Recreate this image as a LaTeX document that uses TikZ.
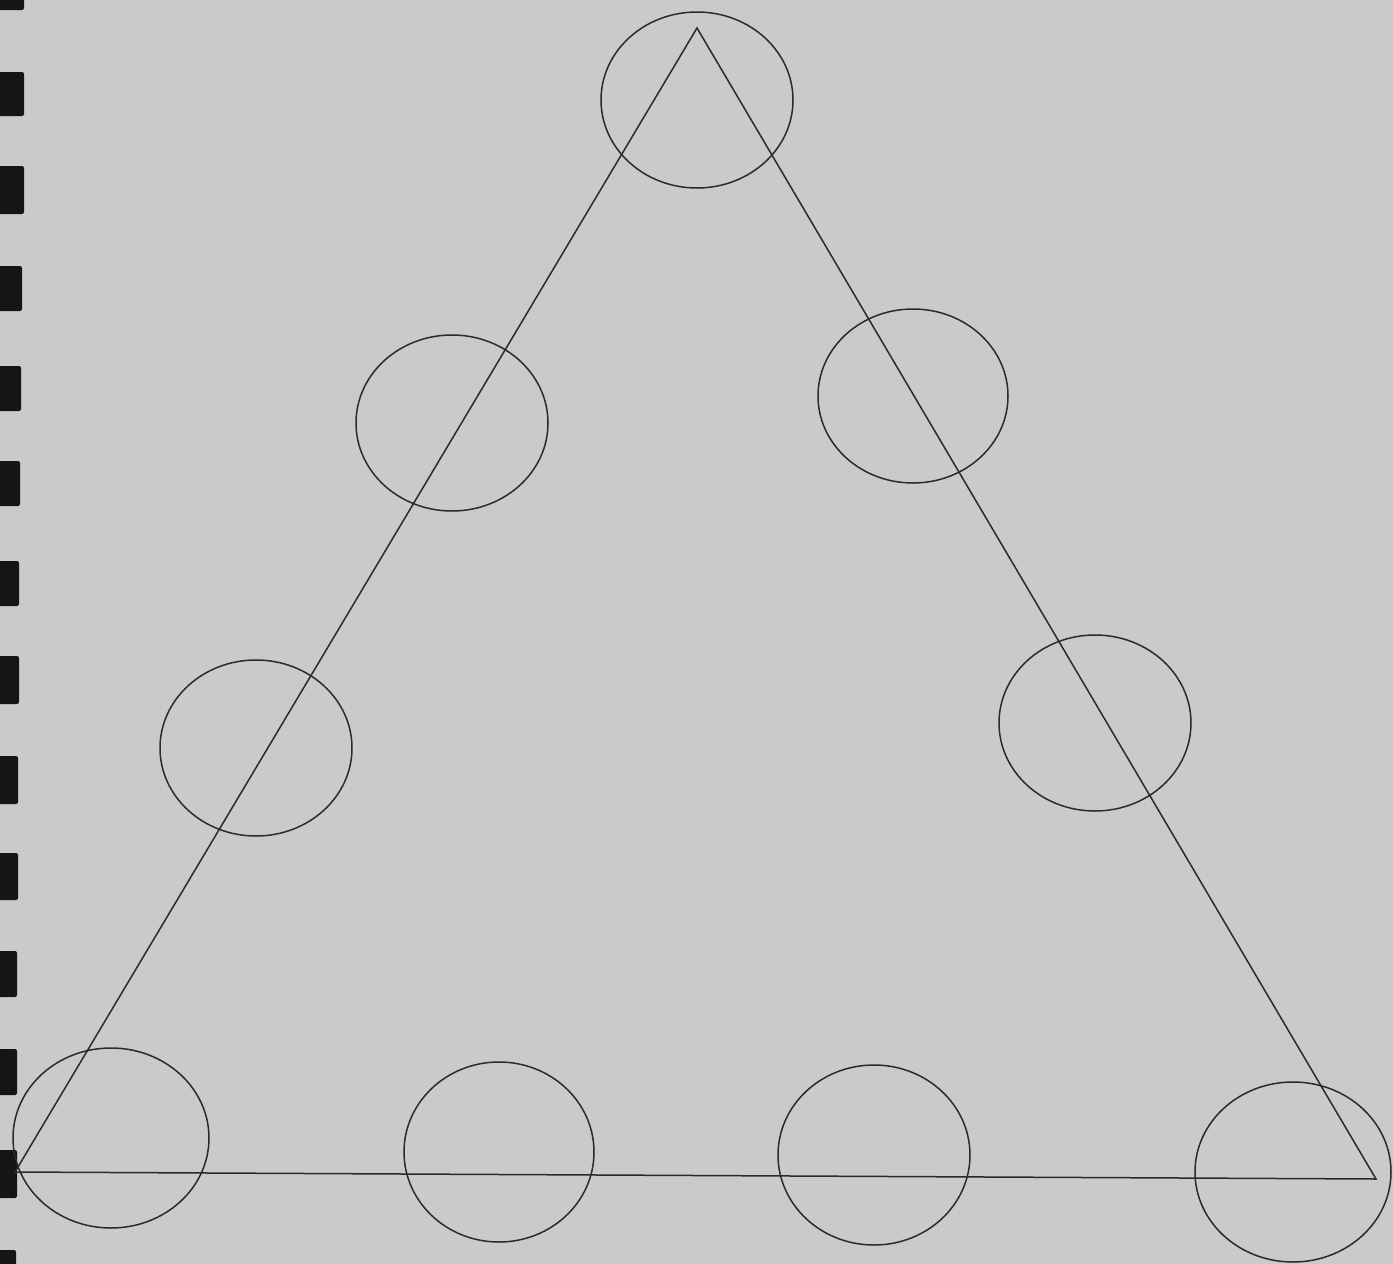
\documentclass[tikz,border=0pt]{standalone}
\usetikzlibrary{shapes.geometric}
\definecolor{paper}{HTML}{C9CBCA}
\definecolor{ink}{HTML}{2A2A2A}
\definecolor{ring}{HTML}{151515}
\begin{document}
\begin{tikzpicture}[x=1pt,y=-1pt,
  spot/.style={ellipse,draw=ink,line width=1.5pt,inner sep=0pt,minimum width=192pt,minimum height=176pt},
  edge/.style={draw=ink,line width=1.5pt},
  bind/.style={fill=ring,rounded corners=2pt}]
\fill[paper] (0,0) rectangle (1393,1264);
\useasboundingbox (0,0) rectangle (1393,1264);
% binding rings
\foreach \y/\h/\w in {-20/30/24,72/44/24,166/48/24,266/45/22,366/45/21,461/45/20,561/45/19,656/48/19,756/48/18,853/47/18,951/46/17,1049/46/17,1150/48/17,1250/30/16}
  {\fill[bind] (-4,\y) rectangle (\w,\y+\h);}
% vertices
\coordinate (A) at (697,28);
\coordinate (B) at (15,1172);
\coordinate (C) at (1376,1179);
\draw[edge,line join=miter] (A) -- (B) -- (C) -- cycle;
% circles
\node[spot] (c1) at (697,100) {};
\node[spot] (c2) at (452,423) {};
\node[spot,minimum width=192pt,minimum height=176pt] (c3) at (256,748) {};
\node[spot,minimum width=196pt,minimum height=180pt] (c4) at (111,1138) {};
\node[spot,minimum width=190pt,minimum height=180pt] (c5) at (499,1152) {};
\node[spot,minimum width=192pt,minimum height=180pt] (c6) at (874,1155) {};
\node[spot,minimum width=196pt,minimum height=180pt] (c7) at (1293,1172) {};
\node[spot,minimum width=190pt,minimum height=174pt] (c8) at (913,396) {};
\node[spot,minimum width=192pt,minimum height=176pt] (c9) at (1095,723) {};
\end{tikzpicture}
\end{document}
